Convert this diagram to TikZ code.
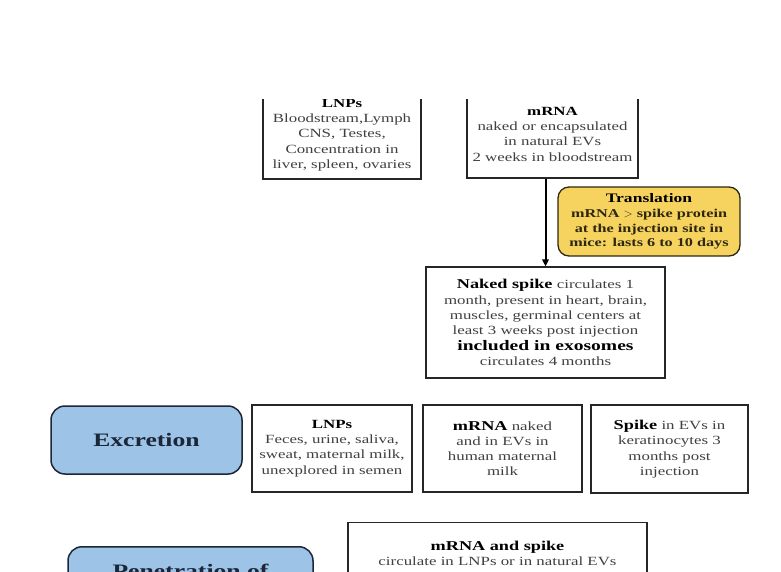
\documentclass[tikz,border=0pt]{standalone}
\usepackage{fontspec}
\setmainfont{Liberation Serif}[FakeStretch=1.35]
\usetikzlibrary{arrows.meta,shadows}
\definecolor{transfill}{HTML}{F6D35E}
\definecolor{transink}{HTML}{2E2710}
\definecolor{stagefill}{HTML}{9DC3E6}
\definecolor{stageink}{HTML}{1B2638}
\newcommand{\bodyfont}{\fontsize{12.5}{15.3}\selectfont}
\begin{document}
\begin{tikzpicture}[x=1pt,y=-1pt,
    infobox/.style={draw=black!85,line width=1.3pt,fill=white,align=center,inner sep=2pt,
        text=black!75,font=\bodyfont,
        drop shadow={shadow xshift=1.2pt,shadow yshift=-1.2pt,fill=black!45,opacity=0.6}},
    transbox/.style={draw=transink,line width=1.3pt,fill=transfill,rounded corners=11pt,align=center,
        text=transink,font=\fontsize{12}{14.6}\selectfont\bfseries},
    stagebox/.style={draw=stageink,line width=1.5pt,fill=stagefill,rounded corners=14pt,align=center,
        text=stageink,font=\fontsize{19}{22}\selectfont\bfseries},
    flow/.style={line width=2pt,-{Triangle[length=7pt,width=6.5pt]}}]
\useasboundingbox (0,0) rectangle (781,571);
\clip (0,99) rectangle (781,571);
\node[infobox,minimum width=158pt,minimum height=88pt] (lnpTop) at (342,135)
    {{\color{black}\bfseries LNPs}\\Bloodstream,Lymph\\CNS, Testes,\\Concentration in\\liver, spleen, ovaries};
\node[infobox,minimum width=171pt,minimum height=88pt] (mrnaTop) at (552.5,134)
    {{\color{black}\bfseries mRNA}\\naked or encapsulated\\in natural EVs\\2 weeks in bloodstream};
\node[transbox,minimum width=182pt,minimum height=69pt] (trans) at (649,221.5)
    {{\fontsize{13}{14.6}\selectfont\color{black}Translation}\\mRNA $>$ spike protein\\at the injection site in\\mice: lasts 6 to 10 days};
\node[infobox,minimum width=239pt,minimum height=111pt] (spike) at (545.5,322.5)
    {{\fontsize{13.5}{15.3}\selectfont\color{black}\bfseries Naked spike} circulates 1\\month, present in heart, brain,\\muscles, germinal centers at\\least 3 weeks post injection\\{\fontsize{14.5}{16}\selectfont\color{black}\bfseries included in exosomes}\\circulates 4 months};
\draw[flow] (mrnaTop.south -| spike.north) -- (spike.north);
\node[stagebox,minimum width=191pt,minimum height=68pt] (excr) at (146.5,440) {Excretion};
\node[infobox,minimum width=160pt,minimum height=87pt] (lnpEx) at (332,448.5)
    {{\color{black}\bfseries LNPs}\\Feces, urine, saliva,\\sweat, maternal milk,\\unexplored in semen};
\node[infobox,minimum width=159pt,minimum height=87pt] (mrnaEx) at (502.5,448.5)
    {{\fontsize{13.5}{15.3}\selectfont\color{black}\bfseries mRNA} naked\\and in EVs in\\human maternal\\milk};
\node[infobox,minimum width=157pt,minimum height=88pt] (spikeEx) at (669.5,449)
    {{\fontsize{13.5}{15.3}\selectfont\color{black}\bfseries Spike} in EVs in\\keratinocytes 3\\months post\\injection};
\node[stagebox,anchor=north,minimum width=245pt,minimum height=48pt] (pene) at (190.5,546) {Penetration of};
\node[infobox,anchor=north,minimum width=299pt,minimum height=62pt] (mrnaSpike) at (497.5,522)
    {{\fontsize{13.5}{15.3}\selectfont\color{black}\bfseries mRNA and spike}\\circulate in LNPs or in natural EVs};
\end{tikzpicture}
\end{document}
